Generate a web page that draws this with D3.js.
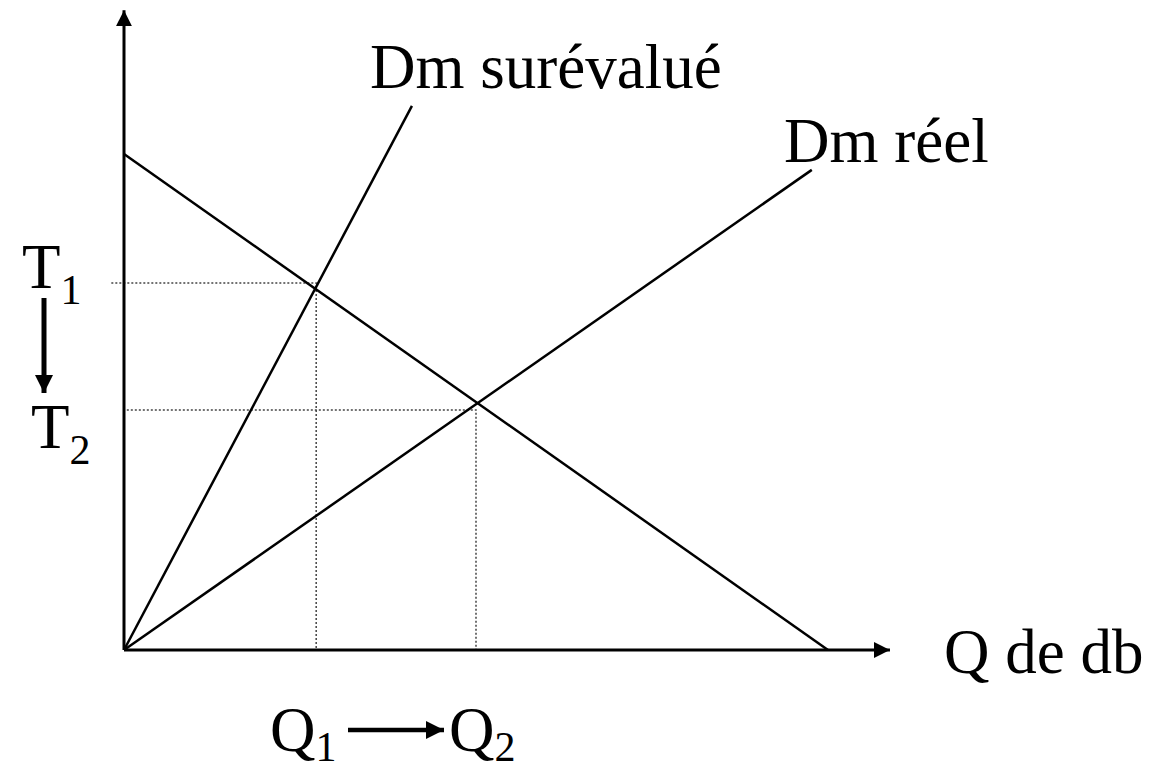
<!DOCTYPE html>
<html>
<head>
<meta charset="utf-8">
<script src="https://cdn.jsdelivr.net/npm/d3@7"></script>
<style>
  body { margin: 0; background: white; }
  text { font-family: "Liberation Serif", "Times New Roman", serif; fill: black; }
</style>
</head>
<body>
<div id="chart"></div>
<script>
// Domain values (0..100 scale on both axes)
const demandLine = [[0, 100], [100, 0]];
const dmSurevalue = [[0, 0], [40.9, 109.7]];
const dmReel = [[0, 0], [97.7, 96.8]];
const axisEnds = { x: 108.8, y: 129 };
const tLevels = [
  { name: "T", sub: "1", y: 74, q: 27.3, start: -1.8 },
  { name: "T", sub: "2", y: 48.4, q: 50, start: 0.4 }
];
const qLabels = [{ name: "Q", sub: "1" }, { name: "Q", sub: "2" }];
const lineLabels = ["Dm surévalué", "Dm réel", "Q de db"];

const width = 1152, height = 772;

const svg = d3.select("#chart").append("svg")
    .attr("width", width)
    .attr("height", height);

const x = d3.scaleLinear().domain([0, 100]).range([124, 828]);
const y = d3.scaleLinear().domain([0, 100]).range([650, 154]);

const defs = svg.append("defs");
defs.append("marker")
    .attr("id", "head")
    .attr("viewBox", "0 0 10 10")
    .attr("refX", 10).attr("refY", 5)
    .attr("markerWidth", 16).attr("markerHeight", 16)
    .attr("markerUnits", "userSpaceOnUse")
    .attr("orient", "auto")
  .append("path")
    .attr("d", "M0,0 L10,5 L0,10 Z")
    .attr("fill", "black");

defs.append("marker")
    .attr("id", "headBig")
    .attr("viewBox", "0 0 10 10")
    .attr("refX", 10).attr("refY", 5)
    .attr("markerWidth", 18).attr("markerHeight", 18)
    .attr("markerUnits", "userSpaceOnUse")
    .attr("orient", "auto")
  .append("path")
    .attr("d", "M0,0 L10,5 L0,10 Z")
    .attr("fill", "black");

const line = d3.line().x(d => x(d[0])).y(d => y(d[1]));

// Dotted guides
tLevels.forEach(t => {
  svg.append("path")
      .attr("d", line([[t.start, t.y], [t.q, t.y], [t.q, 0]]))
      .attr("fill", "none")
      .attr("stroke", "#444")
      .attr("stroke-width", 1.5)
      .attr("stroke-dasharray", "2,2");
});

// Axes
svg.append("line")
    .attr("x1", x(0)).attr("y1", y(0))
    .attr("x2", x(0)).attr("y2", y(axisEnds.y))
    .attr("stroke", "black").attr("stroke-width", 3)
    .attr("marker-end", "url(#head)");
svg.append("line")
    .attr("x1", x(0)).attr("y1", y(0))
    .attr("x2", x(axisEnds.x)).attr("y2", y(0))
    .attr("stroke", "black").attr("stroke-width", 3)
    .attr("marker-end", "url(#head)");

// Curves
[demandLine, dmSurevalue, dmReel].forEach(d => {
  svg.append("path")
      .attr("d", line(d))
      .attr("fill", "none")
      .attr("stroke", "black")
      .attr("stroke-width", 2.5);
});

// Line labels
svg.append("text").attr("x", 370).attr("y", 88)
    .style("font-size", "63px").text(lineLabels[0]);
svg.append("text").attr("x", 784).attr("y", 162)
    .style("font-size", "63px").text(lineLabels[1]);
svg.append("text").attr("x", 944).attr("y", 673)
    .style("font-size", "63px").text(lineLabels[2]);

// T labels
const tPos = [[22, 288], [31, 448]];
tLevels.forEach((t, i) => {
  const g = svg.append("text").attr("x", tPos[i][0]).attr("y", tPos[i][1])
      .style("font-size", "63px");
  g.append("tspan").text(t.name);
  g.append("tspan").attr("dy", 16).style("font-size", "42px").text(t.sub);
});

// T1 -> T2 arrow
svg.append("line")
    .attr("x1", 44).attr("y1", 298)
    .attr("x2", 44).attr("y2", 393)
    .attr("stroke", "black").attr("stroke-width", 5)
    .attr("marker-end", "url(#headBig)");

// Q labels
const qPos = [[270, 751], [449, 751]];
qLabels.forEach((q, i) => {
  const g = svg.append("text").attr("x", qPos[i][0]).attr("y", qPos[i][1])
      .style("font-size", "63px");
  g.append("tspan").text(q.name);
  g.append("tspan").attr("dy", 10).style("font-size", "42px").text(q.sub);
});

// Q1 -> Q2 arrow
svg.append("line")
    .attr("x1", 348).attr("y1", 730)
    .attr("x2", 444).attr("y2", 730)
    .attr("stroke", "black").attr("stroke-width", 4.5)
    .attr("marker-end", "url(#headBig)");
</script>
</body>
</html>
